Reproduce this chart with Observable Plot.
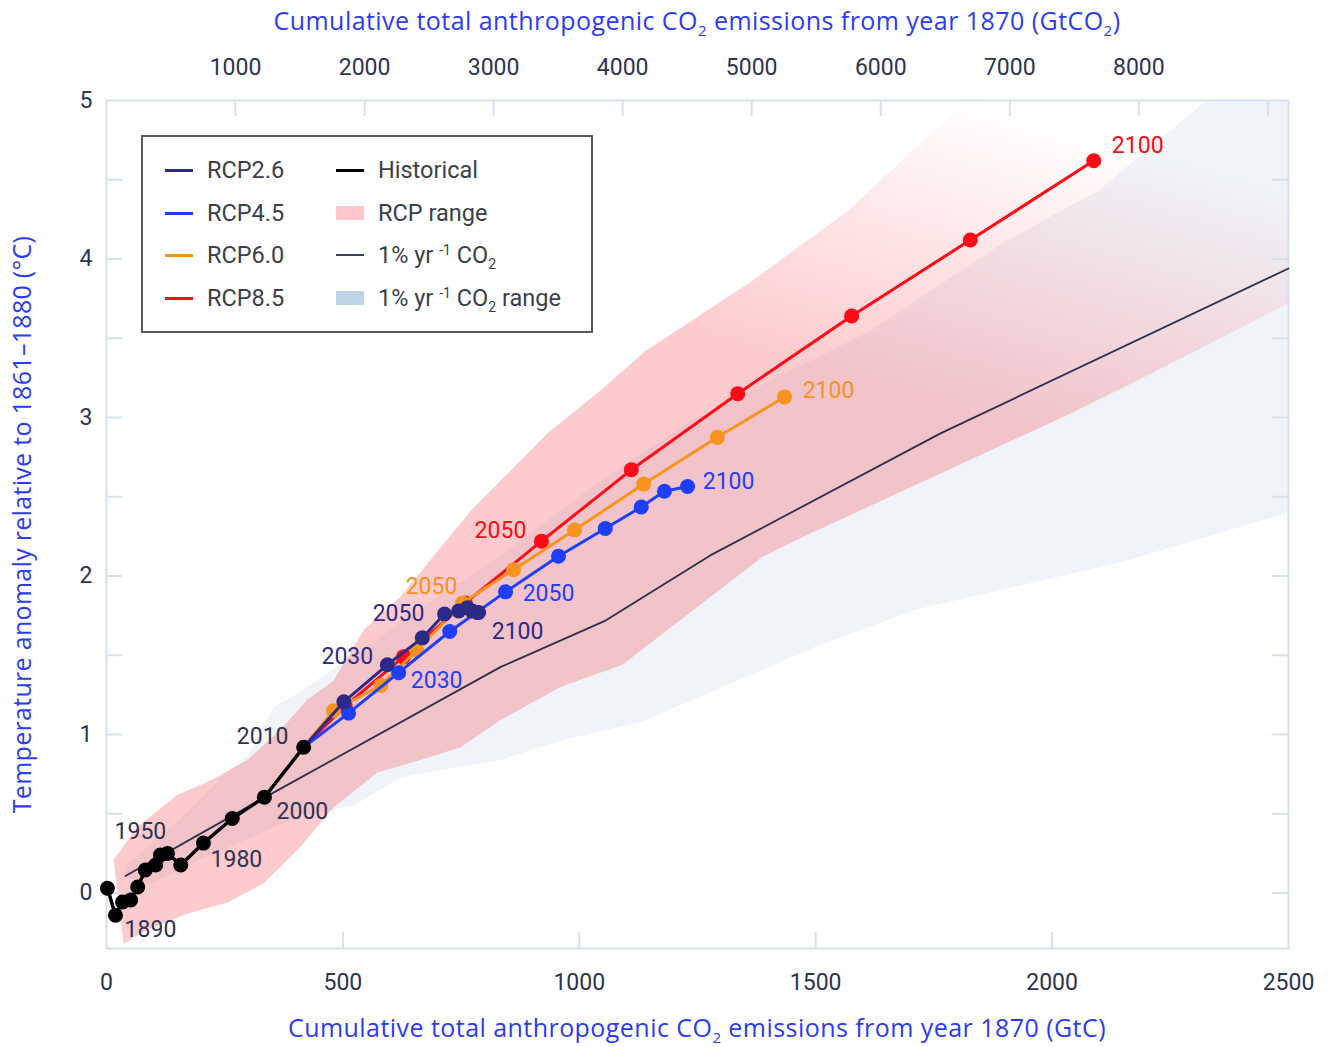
<!DOCTYPE html>
<html><head><meta charset="utf-8">
<script src="https://cdn.jsdelivr.net/npm/d3@7"></script>
<script src="https://cdn.jsdelivr.net/npm/@observablehq/plot@0.6"></script>
<style>
body{margin:0;background:#fff;}
#wrap{position:relative;width:1330px;height:1047px;overflow:hidden;font-family:Roboto, sans-serif;}
.title{position:absolute;left:106px;width:1182px;text-align:center;color:#2b3cf2;font-family:"Open Sans", sans-serif;font-size:25px;letter-spacing:0.45px;white-space:nowrap;line-height:28px;}
.title sub, .item sub{font-size:0.6em;vertical-align:-0.4em;line-height:0;}
.item sup{font-size:0.6em;vertical-align:0.6em;line-height:0;}
#legend{position:absolute;left:141px;top:135px;width:452px;height:198px;box-sizing:border-box;border:2px solid #55585e;background:#fff;}
.item{position:absolute;font-size:23.5px;color:#3a3f4b;height:30px;line-height:30px;white-space:nowrap;}
.sw{position:absolute;}
</style>
</head><body>
<div id="wrap">
  <div class="title" style="top:6px;">Cumulative total anthropogenic CO<sub>2</sub> emissions from year 1870 (GtCO<sub>2</sub>)</div>
  <div class="title" style="top:1013px;">Cumulative total anthropogenic CO<sub>2</sub> emissions from year 1870 (GtC)</div>
</div>
<script>
// ---------------- data ----------------
const histYears = [1880,1890,1900,1910,1920,1930,1940,1950,1960,1970,1980,1990,2000,2010];
const histX = [2,19,34,51,66,82,104,114,129,157,205,266,334,417];
const histY = [0.03,-0.14,-0.057,-0.044,0.038,0.145,0.177,0.24,0.25,0.177,0.315,0.47,0.605,0.92];

const rcpYears = [2010,2020,2030,2040,2050,2060,2070,2080,2090,2100];
const rcp26X = [417,502,594,668,715,745,763,773,784,787];
const rcp26Y = [0.92,1.206,1.44,1.61,1.76,1.78,1.80,1.78,1.77,1.77];
const rcp45X = [417,512,618,726,844,956,1055,1131,1180,1229];
const rcp45Y = [0.92,1.135,1.39,1.65,1.90,2.125,2.30,2.435,2.535,2.565];
const rcp60X = [417,480,580,656,753,861,990,1136,1292,1434];
const rcp60Y = [0.92,1.15,1.31,1.53,1.83,2.04,2.29,2.58,2.875,3.13];
const rcp85X = [417,505,628,759,920,1110,1335,1576,1827,2088];
const rcp85Y = [0.92,1.18,1.49,1.83,2.22,2.67,3.15,3.64,4.12,4.62];

const onePctX = [40,336,833,1053,1277,1764,2500];
const onePctY = [0.107,0.605,1.425,1.715,2.13,2.90,3.94];

// RCP range polygon (upper edge left->right, then lower edge right->left)
const rcpRangeUpperX = [15,66,150,220,298,368,425,480,544,622,770,933,1045,1140,1360,1571,1810,1891,2000,2500];
const rcpRangeUpperY = [0.21,0.42,0.62,0.71,0.84,1.03,1.22,1.34,1.66,1.87,2.41,2.90,3.17,3.42,3.85,4.31,4.98,5.28,5.7,5.7];
const rcpRangeLowerX = [2500,2179,2028,1468,1387,1091,960,833,749,664,573,480,410,332,256,171,87,36];
const rcpRangeLowerY = [3.72,3.23,3.01,2.24,2.12,1.44,1.30,1.09,0.92,0.84,0.76,0.54,0.29,0.06,-0.06,-0.13,-0.23,-0.32];

// 1% yr-1 CO2 range polygon
const pctRangeUpperX = [40,150,250,300,353,410,537,833,1045,1235,1618,1906,2098,2318,2500];
const pctRangeUpperY = [0.17,0.45,0.75,0.87,1.17,1.27,1.53,2.13,2.60,2.98,3.55,4.12,4.43,4.98,5.4];
const pctRangeLowerX = [2500,2149,1715,1504,1132,960,833,622,522,410,305,199,93,40];
const pctRangeLowerY = [2.40,2.09,1.79,1.56,1.08,0.96,0.84,0.73,0.55,0.49,0.35,0.21,0.06,0.10];

// axes
const xTicks = [0,500,1000,1500,2000,2500];
const xInnerTicks = [500,1000,1500,2000];
const topTicksGtCO2 = [1000,2000,3000,4000,5000,6000,7000,8000,9000];
const topLabelsGtCO2 = [1000,2000,3000,4000,5000,6000,7000,8000];
const GTC_TO_GTCO2 = 3.664;
const yTicks = [0,1,2,3,4,5];
const yInnerTicks = [0,0.5,1,1.5,2,2.5,3,3.5,4,4.5];
const yTitle = "Temperature anomaly relative to 1861–1880 (°C)";

// labelled years
const labelled = [
  {s:"hist", year:1890}, {s:"hist", year:1950}, {s:"hist", year:1980}, {s:"hist", year:2000}, {s:"hist", year:2010},
  {s:"rcp26", year:2030}, {s:"rcp26", year:2050}, {s:"rcp26", year:2100},
  {s:"rcp45", year:2030}, {s:"rcp45", year:2050}, {s:"rcp45", year:2100},
  {s:"rcp60", year:2050}, {s:"rcp60", year:2100},
  {s:"rcp85", year:2050}, {s:"rcp85", year:2100}
];

// ---------------- styles ----------------
const colors = {hist:"#000000", rcp26:"#2c2a87", rcp45:"#1e3ff7", rcp60:"#f7931e", rcp85:"#fe0b18", pct:"#2a3148"};
const labelColor = {hist:"#2d3452", rcp26:"#2c2a87", rcp45:"#1e3ff7", rcp60:"#f7931e", rcp85:"#fe0b18"};
const labelOffset = {
  "hist-1890":[35,14], "hist-1950":[-20,-23], "hist-1980":[33,17], "hist-2000":[38,14], "hist-2010":[-41,-11],
  "rcp26-2030":[-40,-8], "rcp26-2050":[-46,0], "rcp26-2100":[39,19],
  "rcp45-2030":[38,8], "rcp45-2050":[43,2], "rcp45-2100":[41,-5],
  "rcp60-2050":[-31,-16], "rcp60-2100":[44,-6],
  "rcp85-2050":[-41,-11], "rcp85-2100":[44,-15]
};
const axisColor = "#d5e1ee";
const tickTextColor = "#2d3452";

// ---------------- build tables ----------------
const zip = (xs, ys, extra={}) => xs.map((x,i)=>({x, y:ys[i], ...extra}));
const hist = histX.map((x,i)=>({x, y:histY[i], year:histYears[i]}));
const series = {
  rcp26: rcp26X.map((x,i)=>({x, y:rcp26Y[i], year:rcpYears[i]})),
  rcp45: rcp45X.map((x,i)=>({x, y:rcp45Y[i], year:rcpYears[i]})),
  rcp60: rcp60X.map((x,i)=>({x, y:rcp60Y[i], year:rcpYears[i]})),
  rcp85: rcp85X.map((x,i)=>({x, y:rcp85Y[i], year:rcpYears[i]})),
  hist
};
const onePct = zip(onePctX, onePctY);
const rcpRange = [...zip(rcpRangeUpperX, rcpRangeUpperY), ...zip(rcpRangeLowerX, rcpRangeLowerY)];
const pctRange = [...zip(pctRangeUpperX, pctRangeUpperY), ...zip(pctRangeLowerX, pctRangeLowerY)];

const W = 1330, H = 1047, mL = 106, mR = 42, mT = 100, mB = 99;
const frameW = W - mL - mR, frameH = H - mT - mB;
const tickLen = 16;

const seriesMarks = [];
for (const k of ["rcp85","rcp60","rcp45","rcp26"]) {
  seriesMarks.push(Plot.line(series[k], {x:"x", y:"y", stroke:colors[k], strokeWidth:3}));
  seriesMarks.push(Plot.dot(series[k].slice(1), {x:"x", y:"y", r:7.5, fill:colors[k], stroke:"none"}));
}
seriesMarks.push(Plot.line(hist, {x:"x", y:"y", stroke:colors.hist, strokeWidth:3.5}));
seriesMarks.push(Plot.dot(hist, {x:"x", y:"y", r:7.5, fill:colors.hist, stroke:"none"}));

const labelMarks = labelled.map(l => {
  const d = series[l.s].find(p => p.year === l.year);
  const [dx, dy] = labelOffset[`${l.s}-${l.year}`];
  return Plot.text([d], {x:"x", y:"y", text: p => String(p.year), dx, dy, fill: labelColor[l.s],
    fontSize: 23, fontFamily: "Roboto", textAnchor:"middle", lineAnchor:"middle"});
});

const chart = Plot.plot({
  width: W, height: H,
  marginLeft: mL, marginRight: mR, marginTop: mT, marginBottom: mB,
  x: {domain: [0, 2500]},
  y: {domain: [-0.35, 5]},
  style: {fontFamily: "Roboto", fontSize: "23px", background: "transparent", overflow: "visible"},
  marks: [
    Plot.line(pctRange, {x:"x", y:"y", fill:"#c5d5e8", fillOpacity:0.25, stroke:"none", clip:true}),
    Plot.line(rcpRange, {x:"x", y:"y", fill:"url(#pinkGrad)", stroke:"none", clip:true}),
    Plot.frame({stroke: axisColor, strokeWidth: 2}),
    Plot.tickX(xInnerTicks, {x: d=>d, insetTop: frameH - tickLen, stroke: axisColor, strokeWidth: 2}),
    Plot.tickX(topTicksGtCO2, {x: d=>d / GTC_TO_GTCO2, insetBottom: frameH - tickLen, stroke: axisColor, strokeWidth: 2}),
    Plot.tickY(yInnerTicks, {y: d=>d, insetRight: frameW - tickLen, stroke: axisColor, strokeWidth: 2}),
    Plot.tickY(yInnerTicks, {y: d=>d, insetLeft: frameW - tickLen, stroke: axisColor, strokeWidth: 2}),
    Plot.axisX(xTicks, {anchor:"bottom", tickSize:0, tickPadding:25, label:null, fontSize:23, fill:tickTextColor, tickFormat: d=>String(d)}),
    Plot.axisX(topLabelsGtCO2.map(v => v / GTC_TO_GTCO2), {anchor:"top", tickSize:0, tickPadding:26, label:null, fontSize:23, fill:tickTextColor,
      tickFormat: d => String(Math.round(d * GTC_TO_GTCO2 / 100) * 100)}),
    Plot.axisY(yTicks, {anchor:"left", tickSize:0, tickPadding:14, label:null, fontSize:23, fill:tickTextColor, tickFormat: d=>String(d)}),
    Plot.text([yTitle], {frameAnchor:"left", rotate:-90, dx:-84, textAnchor:"middle", lineAnchor:"middle", fill:"#2b3cf2", fontSize:25, fontFamily:"Open Sans"}),
    Plot.line(onePct, {x:"x", y:"y", stroke:colors.pct, strokeWidth:1.8}),
    ...seriesMarks,
    ...labelMarks
  ]
});

// gradient for the fading RCP range
const xs = chart.scale("x"), ys = chart.scale("y");
const ns = "http://www.w3.org/2000/svg";
const defs = document.createElementNS(ns, "defs");
const lg = document.createElementNS(ns, "linearGradient");
lg.setAttribute("id", "pinkGrad");
lg.setAttribute("gradientUnits", "userSpaceOnUse");
const fadeFrom = [1150, 3.0], fadeTo = [1380, 5.4];
lg.setAttribute("x1", xs.apply(fadeFrom[0])); lg.setAttribute("y1", ys.apply(fadeFrom[1]));
lg.setAttribute("x2", xs.apply(fadeTo[0]));   lg.setAttribute("y2", ys.apply(fadeTo[1]));
[[0, 0.27], [0.23, 0.27], [1, 0]].forEach(([o, a]) => {
  const s = document.createElementNS(ns, "stop");
  s.setAttribute("offset", o); s.setAttribute("stop-color", "#f73d48"); s.setAttribute("stop-opacity", a);
  lg.appendChild(s);
});
defs.appendChild(lg);
chart.insertBefore(defs, chart.firstChild);
chart.style.position = "absolute"; chart.style.left = "0"; chart.style.top = "0";
chart.querySelectorAll("text").forEach(t => { if (t.textContent === yTitle) t.style.letterSpacing = "0.3px"; });

const wrap = document.getElementById("wrap");
wrap.insertBefore(chart, wrap.firstChild);

// legend
const legend = document.createElement("div");
legend.id = "legend";
const rows = [33, 76, 118, 161];
const legendItems = [
  {col:0, row:0, kind:"line", color:colors.rcp26, w:3, html:"RCP2.6"},
  {col:0, row:1, kind:"line", color:colors.rcp45, w:3, html:"RCP4.5"},
  {col:0, row:2, kind:"line", color:colors.rcp60, w:3, html:"RCP6.0"},
  {col:0, row:3, kind:"line", color:colors.rcp85, w:3, html:"RCP8.5"},
  {col:1, row:0, kind:"line", color:"#000", w:3, html:"Historical"},
  {col:1, row:1, kind:"rect", color:"#fdc6cb", html:"RCP range"},
  {col:1, row:2, kind:"line", color:"#3a4060", w:2.5, html:"1% yr <sup>-1</sup> CO<sub>2</sub>"},
  {col:1, row:3, kind:"rect", color:"#c1d4e6", html:"1% yr <sup>-1</sup> CO<sub>2</sub> range"}
];
const colSw = [22, 193], colTx = [64, 235];
for (const it of legendItems) {
  const cy = rows[it.row];
  const sw = document.createElement("div");
  sw.className = "sw";
  sw.style.left = colSw[it.col] + "px";
  sw.style.width = "28px";
  if (it.kind === "line") { sw.style.top = (cy - it.w/2) + "px"; sw.style.height = it.w + "px"; }
  else { sw.style.top = (cy - 7) + "px"; sw.style.height = "14px"; }
  sw.style.background = it.color;
  legend.appendChild(sw);
  const tx = document.createElement("div");
  tx.className = "item";
  tx.style.left = colTx[it.col] + "px";
  tx.style.top = (cy - 15) + "px";
  tx.innerHTML = it.html;
  legend.appendChild(tx);
}
wrap.appendChild(legend);
</script>
</body></html>
